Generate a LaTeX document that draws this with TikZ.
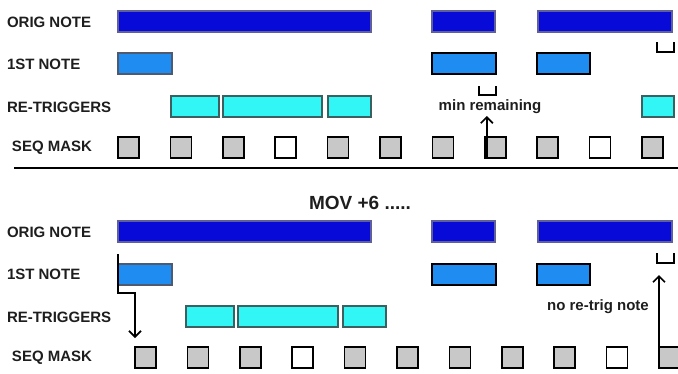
\documentclass[tikz,border=0pt]{standalone}
\usepackage{fontspec}
\setmainfont{Liberation Sans}
\usetikzlibrary{arrows.meta}
\definecolor{origblue}{RGB}{8,10,215}
\definecolor{origedge}{RGB}{95,95,155}
\definecolor{firstblue}{RGB}{30,140,240}
\definecolor{firstedge}{RGB}{80,90,110}
\definecolor{retrigcyan}{RGB}{50,245,245}
\definecolor{retrigedge}{RGB}{60,95,95}
\definecolor{maskgray}{RGB}{200,200,200}
\definecolor{labelgray}{RGB}{30,30,30}

\begin{document}
\begin{tikzpicture}[x=1pt, y=-1pt]
  \tikzset{every node/.style={inner sep=0pt, outer sep=0pt},
           lbl/.style={anchor=west, font=\fontsize{15}{18}\selectfont\bfseries, text=labelgray},
           bar/.style={anchor=north west, minimum height=21pt, line width=1.4pt},
           orig/.style={bar, fill=origblue, draw=origedge},
           first/.style={bar, fill=firstblue, draw=black},
           retrig/.style={bar, fill=retrigcyan, draw=retrigedge},
           mask/.style={anchor=north west, minimum size=21pt, line width=1.7pt, draw=black},
           arr/.style={line width=1.7pt, -{Straight Barb[length=6pt, width=12pt]}},
           gap/.style={line width=1.8pt}}
  \useasboundingbox (0,0) rectangle (678,373);

  % before
  \node[lbl] (l1) at (7,22) {ORIG NOTE};
  \node[lbl] (l2) at (7,64) {1ST NOTE};
  \node[lbl] (l3) at (7,107) {RE-TRIGGERS};
  \node[lbl] (l4) at (12,148) {SEQ MASK};

  \node[orig, minimum width=253pt] (o1) at (118,11) {};
  \node[orig, minimum width=63pt] (o2) at (432,11) {};
  \node[orig, minimum width=134pt] (o3) at (538,11) {};

  \node[first, draw=firstedge, minimum width=54pt] (f1) at (118,53) {};
  \node[first, minimum width=64pt] (f2) at (432,53) {};
  \node[first, minimum width=53pt] (f3) at (537,53) {};

  \node[retrig, minimum width=48pt] (r1) at (171,96) {};
  \node[retrig, minimum width=99pt] (r2) at (223,96) {};
  \node[retrig, minimum width=43pt] (r3) at (328,96) {};
  \node[retrig, minimum width=32pt] (r4) at (642,96) {};

  \foreach \f [count=\i] in {maskgray,maskgray,maskgray,white,maskgray,maskgray,maskgray,maskgray,maskgray,white,maskgray}
    \node[mask, fill=\f] (m\i) at ({118+52.4*(\i-1)},137) {};

  \draw[gap] (479,86) |- (496,95) -- (496,86);
  \draw[gap] (657,42) |- (674,52) -- (674,42);
  \node[lbl, anchor=center] (minrem) at (490,107) {min remaining};
  \draw[arr] ([xshift=2pt]m8.south west) -- ([xshift=2pt, yshift=-2pt]m8.south west |- minrem.south);

  \draw[line width=1.6pt] (14,168) -- (678,168);

  % after
  \node[lbl, anchor=center, font=\fontsize{19}{22}\selectfont\bfseries] (mov) at (360,203) {MOV +6 .....};

  \node[lbl] (bl1) at (7,232) {ORIG NOTE};
  \node[lbl] (bl2) at (7,274) {1ST NOTE};
  \node[lbl] (bl3) at (7,317) {RE-TRIGGERS};
  \node[lbl] (bl4) at (12,358) {SEQ MASK};

  \node[orig, minimum width=253pt] (bo1) at (118,221) {};
  \node[orig, minimum width=63pt] (bo2) at (432,221) {};
  \node[orig, minimum width=134pt] (bo3) at (538,221) {};

  \node[first, draw=firstedge, minimum width=54pt] (bf1) at (118,264) {};
  \node[first, minimum width=64pt] (bf2) at (432,264) {};
  \node[first, minimum width=53pt] (bf3) at (537,264) {};

  \node[retrig, minimum width=48pt] (br1) at (186,306) {};
  \node[retrig, minimum width=100pt] (br2) at (238,306) {};
  \node[retrig, minimum width=43pt] (br3) at (343,306) {};

  \foreach \f [count=\i] in {maskgray,maskgray,maskgray,white,maskgray,maskgray,maskgray,maskgray,maskgray,white,maskgray}
    \node[mask, fill=\f] (bm\i) at ({135+52.4*(\i-1)},347) {};

  \draw[arr] ([yshift=10pt]bf1.north west) |- ([yshift=-8pt]bf1.south west -| bm1.west) -- ([yshift=9pt]bm1.north west);

  \draw[gap] (657,253) |- (674,263) -- (674,253);
  \coordinate (nogap) at (659,263);
  \node[lbl, anchor=center] (noretrig) at (598,307) {no re-trig note};
  \draw[arr] ([yshift=4pt]bm11.south west) -- ([yshift=-12pt]nogap);
\end{tikzpicture}
\end{document}
